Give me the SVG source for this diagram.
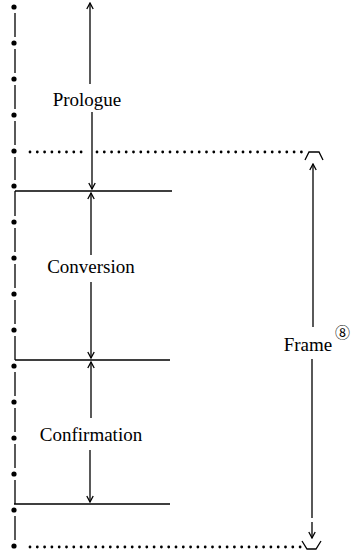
<svg xmlns="http://www.w3.org/2000/svg" width="352" height="551" viewBox="0 0 352 551">
<defs>
<style>
.ln{stroke:#000;stroke-width:1.3;fill:none}
.dot{fill:#000}
.dl{stroke:#000;stroke-width:2.8;stroke-linecap:round;stroke-dasharray:0 7.3;fill:none}
.lbl{font-family:"Liberation Serif","DejaVu Serif",serif;font-size:19px;fill:#000;text-anchor:middle}
.num{font-family:"Noto Sans CJK JP","DejaVu Sans",sans-serif;font-size:15px;fill:#000}
</style>
<marker id="arr" viewBox="-7 -5 8 10" markerWidth="8" markerHeight="10" refX="0" refY="0" orient="auto" markerUnits="userSpaceOnUse">
<path d="M-6,-3.2 L0,0 L-6,3.2" fill="none" stroke="#000" stroke-width="1.3"/>
</marker>
</defs>
<rect width="352" height="551" fill="#fff"/>
<g id="timeline">
<g class="dot">
<circle cx="14" cy="7" r="2.6"/><circle cx="14" cy="43" r="2.6"/><circle cx="14" cy="79" r="2.6"/><circle cx="14" cy="115" r="2.6"/>
<circle cx="14" cy="151" r="2.6"/><circle cx="14" cy="186" r="2.6"/><circle cx="14" cy="222" r="2.6"/><circle cx="14" cy="258" r="2.6"/>
<circle cx="14" cy="294" r="2.6"/><circle cx="14" cy="330" r="2.6"/><circle cx="14" cy="366" r="2.6"/><circle cx="14" cy="402" r="2.6"/>
<circle cx="14" cy="438" r="2.6"/><circle cx="14" cy="474" r="2.6"/><circle cx="14" cy="510" r="2.6"/><circle cx="14" cy="546" r="2.6"/>
</g>
<path class="ln" d="M15,13 V37 M15,49 V73 M15,85 V109 M15,121 V145 M15,157 V180 M15,191 V216 M15,228 V252 M15,264 V288 M15,300 V324 M15,336 V360 M15,372 V396 M15,408 V432 M15,444 V468 M15,480 V504 M15,516 V540"/>
</g>
<g id="boundaries">
<path class="ln" d="M15,191 H172 M15,360 H170 M14,504 H170"/>
<path class="dl" d="M30,152 H88 M97,152 H303"/>
<path class="dl" d="M30,547 H302"/>
<path class="ln" d="M305,160 L309,152 L319,152 L323,160"/>
<path class="ln" d="M302,541 L307,549 L316,549 L321,541"/>
</g>
<g id="prologue">
<text class="lbl" x="87" y="106" font-family="Liberation Serif, serif">Prologue</text>
</g>
<g id="conversion">
<text class="lbl" x="91" y="273" font-family="Liberation Serif, serif">Conversion</text>
</g>
<g id="confirmation">
<text class="lbl" x="91" y="441" font-family="Liberation Serif, serif">Confirmation</text>
</g>
<g id="frame">
<text class="lbl" x="308" y="351" font-family="Liberation Serif, serif">Frame</text>
<text class="num" x="335" y="338">⑧</text>
</g>
<g id="connectors">
<path class="ln" d="M90,84 V3" marker-end="url(#arr)"/>
<path class="ln" d="M92,112 V189" marker-end="url(#arr)"/>
<path class="ln" d="M91,255 V193" marker-end="url(#arr)"/>
<path class="ln" d="M91,282 V358" marker-end="url(#arr)"/>
<path class="ln" d="M91,418 V362" marker-end="url(#arr)"/>
<path class="ln" d="M90,450 V502" marker-end="url(#arr)"/>
<path class="ln" d="M313,327 V164" marker-end="url(#arr)"/>
<path class="ln" d="M312,359 V518 M312,522 V538" marker-end="url(#arr)"/>
</g>
</svg>
